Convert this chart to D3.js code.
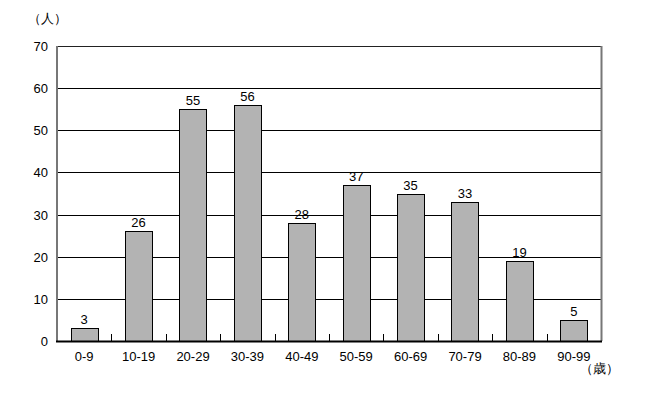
<!DOCTYPE html>
<html><head><meta charset="utf-8">
<script src="https://cdn.jsdelivr.net/npm/d3@7"></script>
<style>body{margin:0;background:#fff}svg{display:block}text{font-family:"Liberation Sans",Arial,sans-serif;}</style>
</head><body>
<script>
const categories = ["0-9","10-19","20-29","30-39","40-49","50-59","60-69","70-79","80-89","90-99"];
const values = [3,26,55,56,28,37,35,33,19,5];
const yTicks = [0,10,20,30,40,50,60,70];
const yUnit = "（人）";
const xUnit = "（歳）";

const W = 661, H = 408;
const m = {left:57, right:60, top:46, bottom:67};
const svg = d3.select("body").append("svg").attr("width",W).attr("height",H);
const x = d3.scaleBand().domain(categories).range([m.left, W-m.right]).paddingInner(0).paddingOuter(0);
const y = d3.scaleLinear().domain([0,70]).range([H-m.bottom, m.top]);

// gridlines
svg.append("g").selectAll("line").data(yTicks.filter(d=>d>0)).join("line")
  .attr("x1",m.left).attr("x2",W-m.right)
  .attr("y1",d=>Math.round(y(d))+0.5).attr("y2",d=>Math.round(y(d))+0.5)
  .attr("stroke",d=>d===70?"#222":"#000").attr("stroke-width",1);

// right border
svg.append("line").attr("x1",W-m.right+0.5).attr("x2",W-m.right+0.5)
  .attr("y1",y(70)).attr("y2",y(0)).attr("stroke","#777").attr("stroke-width",2);

// bars
const bw = x.bandwidth()*0.5;
svg.append("g").selectAll("rect").data(values).join("rect")
  .attr("x",(d,i)=>Math.round(x(categories[i])+x.bandwidth()/2-bw/2)+0.5)
  .attr("width",Math.round(bw))
  .attr("y",d=>Math.round(y(d))+0.5)
  .attr("height",d=>Math.round(y(0))-Math.round(y(d)))
  .attr("fill","#b3b3b3").attr("stroke","#000").attr("stroke-width",1);

// value labels
svg.append("g").selectAll("text").data(values).join("text")
  .attr("x",(d,i)=>x(categories[i])+x.bandwidth()/2)
  .attr("y",d=>y(d)-4)
  .attr("text-anchor","middle").attr("font-size",13).attr("fill","#000")
  .text(d=>d);

// left axis
svg.append("line").attr("x1",m.left).attr("x2",m.left)
  .attr("y1",y(70)).attr("y2",y(0)).attr("stroke","#777").attr("stroke-width",2);
// bottom axis
svg.append("line").attr("x1",m.left-1).attr("x2",W-m.right+1)
  .attr("y1",y(0)+0.5).attr("y2",y(0)+0.5).attr("stroke","#000").attr("stroke-width",2);

// y tick labels
svg.append("g").selectAll("text").data(yTicks).join("text")
  .attr("x",m.left-9).attr("y",d=>y(d)+5)
  .attr("text-anchor","end").attr("font-size",13).attr("fill","#000")
  .text(d=>d);

// x ticks (inside, between categories)
svg.append("g").selectAll("line").data(categories.slice(1)).join("line")
  .attr("x1",d=>Math.round(x(d))+0.5).attr("x2",d=>Math.round(x(d))+0.5)
  .attr("y1",y(0)).attr("y2",y(0)-7).attr("stroke","#000").attr("stroke-width",1);

// x labels
svg.append("g").selectAll("text").data(categories).join("text")
  .attr("x",d=>x(d)+x.bandwidth()/2).attr("y",y(0)+20)
  .attr("text-anchor","middle").attr("font-size",13).attr("fill","#000")
  .text(d=>d);

// units
svg.append("text").attr("x",28).attr("y",23).attr("font-size",13)
  .attr("font-family","'Noto Sans CJK JP',sans-serif").text(yUnit);
svg.append("text").attr("x",580).attr("y",373).attr("font-size",13)
  .attr("font-family","'Noto Sans CJK JP',sans-serif").text(xUnit);
</script>
</body></html>
